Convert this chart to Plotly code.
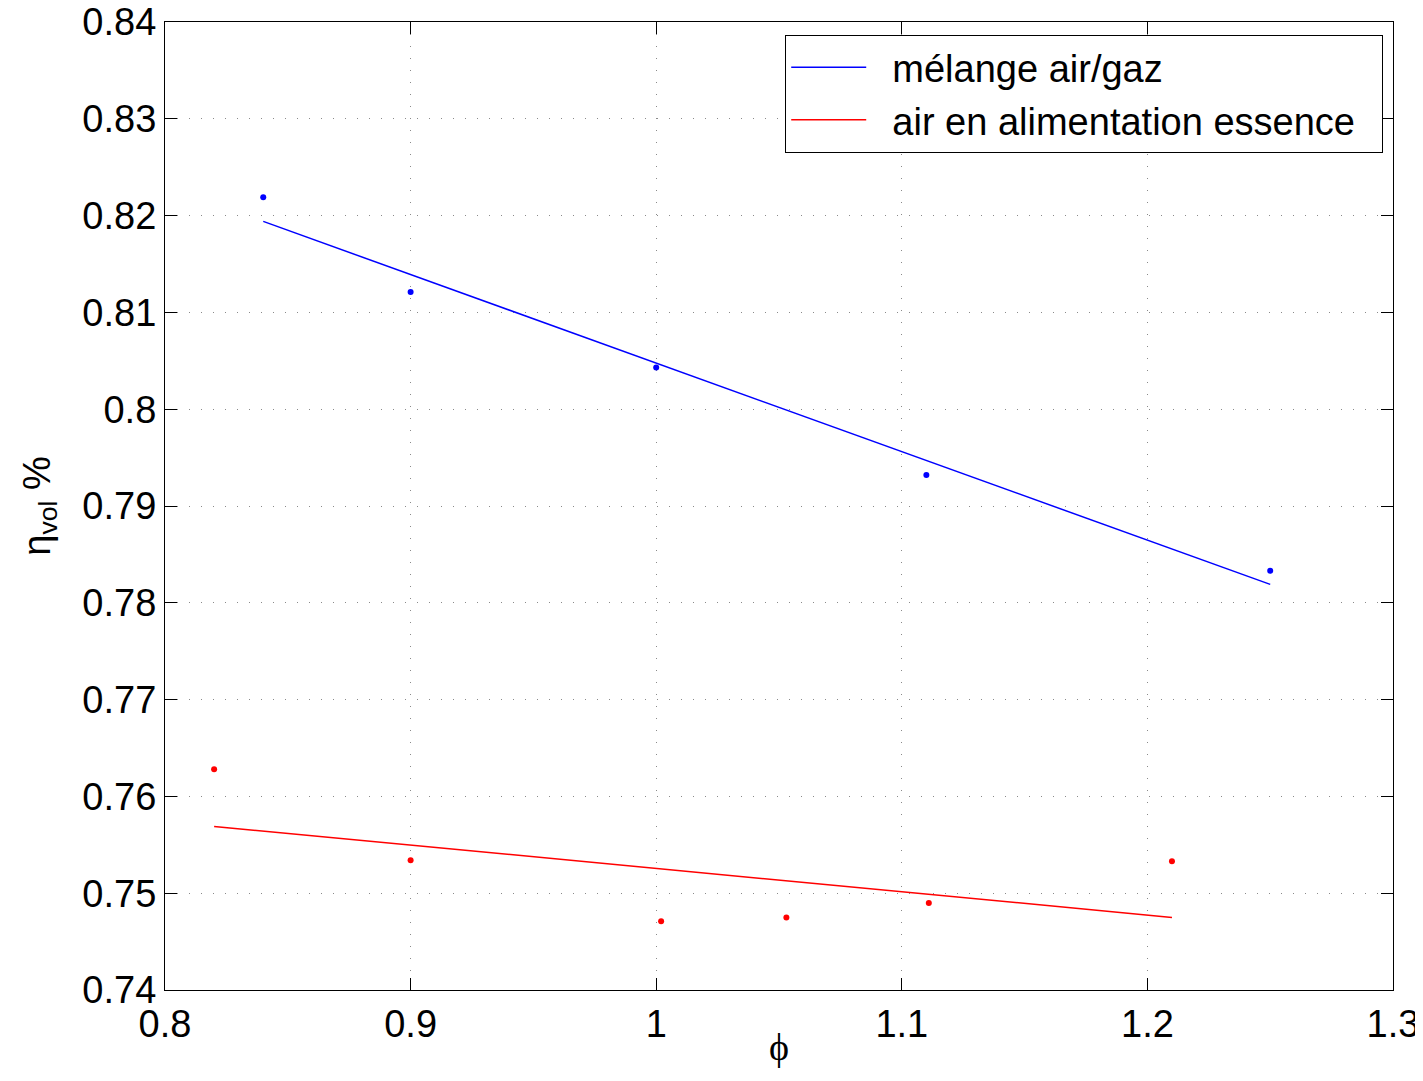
import plotly.graph_objects as go

# Data
gas_phi = [0.84, 0.90, 1.00, 1.11, 1.25]
gas_eta = [0.8219, 0.8121, 0.8043, 0.7932, 0.7833]
gas_fit_phi = [0.84, 1.25]
gas_fit_eta = [0.8194, 0.7819]

ess_phi = [0.82, 0.90, 1.002, 1.053, 1.111, 1.21]
ess_eta = [0.7628, 0.7534, 0.7471, 0.7475, 0.7490, 0.7533]
ess_fit_phi = [0.82, 1.21]
ess_fit_eta = [0.7569, 0.7475]

x_ticks = [0.8, 0.9, 1.0, 1.1, 1.2, 1.3]
x_labels = ["0.8", "0.9", "1", "1.1", "1.2", "1.3"]
y_ticks = [0.74, 0.75, 0.76, 0.77, 0.78, 0.79, 0.80, 0.81, 0.82, 0.83, 0.84]
y_labels = ["0.74", "0.75", "0.76", "0.77", "0.78", "0.79", "0.8", "0.81", "0.82", "0.83", "0.84"]

BLUE = "#0000ff"
RED = "#ff0000"
FONT = "Liberation Sans, Arial, Helvetica, sans-serif"
FS = 38
NB = "\u00a0\u00a0"

fig = go.Figure()
fig.add_trace(go.Scatter(x=gas_fit_phi, y=gas_fit_eta, mode="lines",
                         line=dict(color=BLUE, width=1.5), name=NB + "mélange air/gaz"))
fig.add_trace(go.Scatter(x=ess_fit_phi, y=ess_fit_eta, mode="lines",
                         line=dict(color=RED, width=1.5),
                         name=NB + "air en alimentation essence\u00a0\u00a0"))
fig.add_trace(go.Scatter(x=gas_phi, y=gas_eta, mode="markers",
                         marker=dict(color=BLUE, size=6), showlegend=False))
fig.add_trace(go.Scatter(x=ess_phi, y=ess_eta, mode="markers",
                         marker=dict(color=RED, size=6), showlegend=False))

axis_common = dict(
    showline=True, linecolor="black", linewidth=1.2, mirror="ticks",
    ticks="inside", ticklen=12, tickcolor="black", tickwidth=1,
    showgrid=True, gridcolor="#8a8a8a", griddash="1px,11px", gridwidth=1,
    zeroline=False, automargin=False, ticklabeloverflow="allow",
    tickfont=dict(family=FONT, size=FS, color="black"),
)

fig.update_layout(
    width=1415, height=1060,
    margin=dict(l=157, r=30, t=14, b=78),
    paper_bgcolor="white", plot_bgcolor="white",
    font=dict(family=FONT, size=FS, color="black"),
    xaxis=dict(range=[0.8, 1.3], tickvals=x_ticks, ticktext=x_labels,
               title=dict(text="ϕ", standoff=2,
                          font=dict(family="Liberation Serif, Times New Roman, serif", size=FS)),
               **axis_common),
    yaxis=dict(range=[0.74, 0.84], tickvals=y_ticks, ticktext=y_labels,
               title=dict(text="η<sub>vol</sub> %", standoff=20,
                          font=dict(family=FONT, size=FS)),
               **axis_common),
    legend=dict(x=0.5049, y=0.9866, xanchor="left", yanchor="top",
                bgcolor="white", bordercolor="black", borderwidth=1.2,
                font=dict(family=FONT, size=FS, color="black"),
                itemwidth=75, tracegroupgap=0),
    showlegend=True,
)

fig.write_html("out.html")
